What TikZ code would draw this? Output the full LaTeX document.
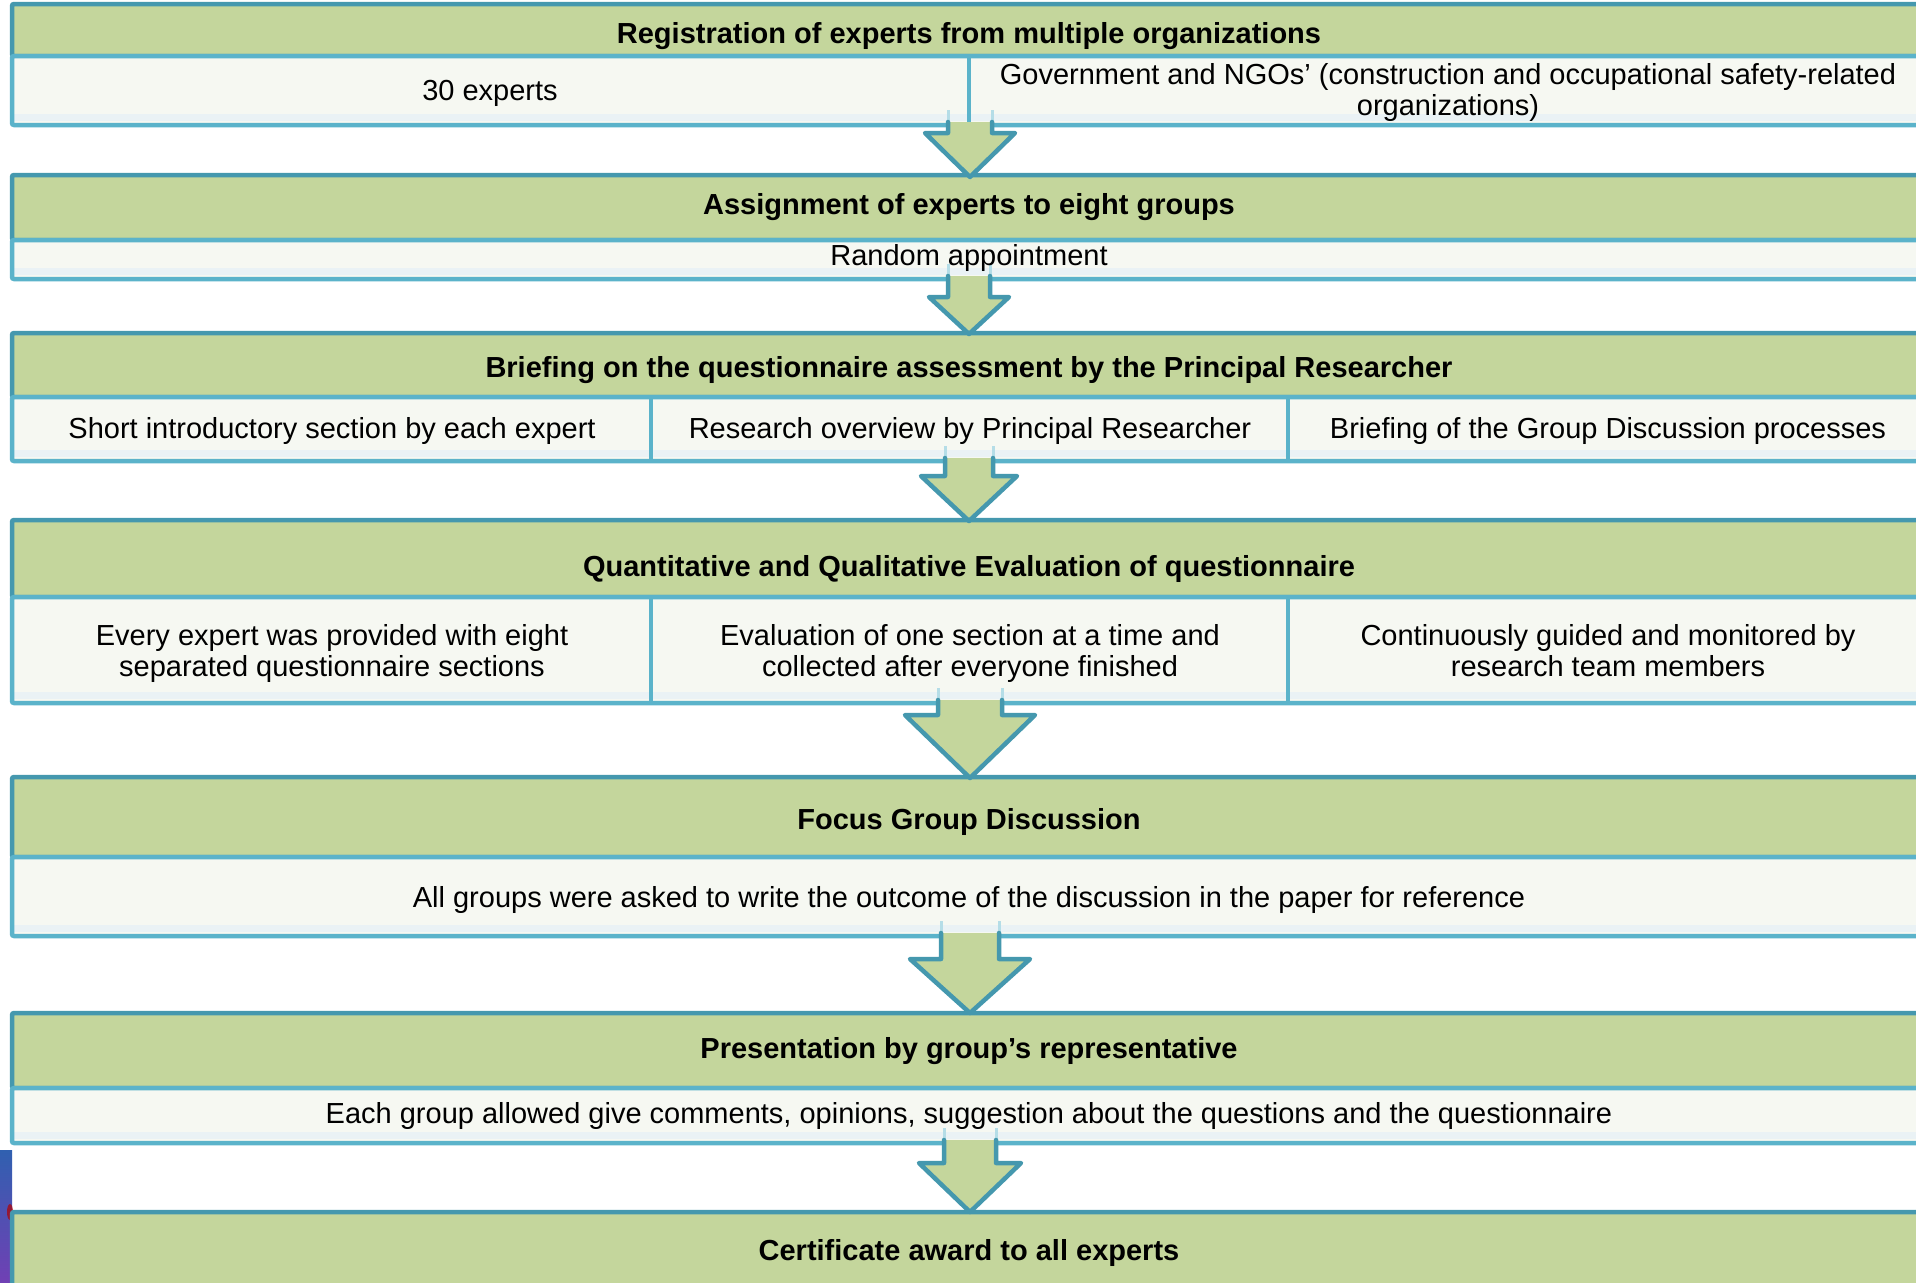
\documentclass[tikz,border=0pt]{standalone}
\usepackage{fontspec}
\setmainfont{Liberation Sans}
\definecolor{hdrfill}{HTML}{C4D69C}
\definecolor{hdrline}{HTML}{4598AE}
\definecolor{bodyfill}{HTML}{F6F8F2}
\definecolor{bodyline}{HTML}{5BB3CA}
\definecolor{bodyband}{HTML}{EAF2F5}

\tikzset{
  hdr/.style={fill=hdrfill, draw=hdrline, line width=4.5pt, rounded corners=2pt},
  bdyline/.style={draw=bodyline, line width=4.5pt, rounded corners=2pt},
  divider/.style={draw=bodyline, line width=4pt},
  htext/.style={font=\fontsize{29}{33}\selectfont\bfseries, align=center, inner sep=0pt},
  btext/.style={font=\fontsize{29}{31}\selectfont, align=center, inner sep=0pt},
  arrowline/.style={draw=hdrline, line width=4.5pt, line join=round, line cap=round},
  shaftline/.style={draw=bodyline!45, line width=3pt},
}

% a step box: green header on top of a light body
% #1 top, #2 header/body boundary, #3 bottom
\newcommand\stepbox[3]{%
  \path[hdr] (12,#1) rectangle (1928,#2);
  \fill[bodyfill] (12,#2) rectangle (1928,#3);
  \fill[bodyband] (12,#3-11) rectangle (1928,#3-4);
  \path[bdyline] (12,#2) rectangle (1928,#3);
}

% a block arrow pointing down
% #1 centre x, #2 half shaft width, #3 half head width, #4 shaft top, #5 head y, #6 tip y
\newcommand\blockarrow[6]{%
  \draw[shaftline] (#1-#2,#4-12) -- (#1-#2,#4);
  \draw[shaftline] (#1+#2,#4-12) -- (#1+#2,#4);
  \fill[hdrfill] (#1-#2,#4) -- (#1-#2,#5) -- (#1-#3,#5) -- (#1,#6) -- (#1+#3,#5) -- (#1+#2,#5) -- (#1+#2,#4) -- cycle;
  \draw[arrowline] (#1-#2,#4) -- (#1-#2,#5) -- (#1-#3,#5) -- (#1,#6) -- (#1+#3,#5) -- (#1+#2,#5) -- (#1+#2,#4);
}

\begin{document}
\begin{tikzpicture}[x=1pt,y=-1pt]
\useasboundingbox (0,0) rectangle (1916,1282);
\clip (0,0) rectangle (1916,1282);
\fill[white] (0,0) rectangle (1916,1282);

% corner of a picture peeking in at the lower left
\shade[top color={rgb,255:red,48;green,96;blue,176}, bottom color={rgb,255:red,112;green,64;blue,180}] (0,1150) rectangle (12,1282);
\fill[red!70!black, opacity=0.7] (10,1212) ellipse (3 and 8);

% boxes
\stepbox{4}{56}{125}
\draw[divider] (969,56) -- (969,125);
\stepbox{175}{240}{279}
\stepbox{333}{397}{461}
\draw[divider] (651,397) -- (651,461);
\draw[divider] (1288,397) -- (1288,461);
\stepbox{520}{597}{703}
\draw[divider] (651,597) -- (651,703);
\draw[divider] (1288,597) -- (1288,703);
\stepbox{777}{857}{936}
\stepbox{1013}{1088}{1143}
\path[hdr] (12,1212) rectangle (1928,1300);

% arrows between the steps
\blockarrow{970}{22}{45}{122}{133}{177}
\blockarrow{969}{21}{40}{276}{297}{334}
\blockarrow{969}{24}{48}{458}{476}{521}
\blockarrow{970}{32}{65}{700}{715}{778}
\blockarrow{970}{29}{60}{933}{959}{1013}
\blockarrow{970}{26}{51}{1140}{1163}{1212}

% texts
\node[htext] (h1) at (969,36) {Registration of experts from multiple organizations};
\node[btext] (b1a) at (490,93) {30 experts};
\node[btext] (b1b) at (1448,93) {Government and NGOs’ (construction and occupational safety-related\\organizations)};

\node[htext] (h2) at (969,207) {Assignment of experts to eight groups};
\node[btext] (b2) at (969,258) {Random appointment};

\node[htext] (h3) at (969,370) {Briefing on the questionnaire assessment by the Principal Researcher};
\node[btext] (b3a) at (332,431) {Short introductory section by each expert};
\node[btext] (b3b) at (970,431) {Research overview by Principal Researcher};
\node[btext] (b3c) at (1608,431) {Briefing of the Group Discussion processes};

\node[htext] (h4) at (969,569) {Quantitative and Qualitative Evaluation of questionnaire};
\node[btext] (b4a) at (332,653) {Every expert was provided with eight\\separated questionnaire sections};
\node[btext] (b4b) at (970,653) {Evaluation of one section at a time and\\collected after everyone finished};
\node[btext] (b4c) at (1608,653) {Continuously guided and monitored by\\research team members\vphantom{p}};

\node[htext] (h5) at (969,822) {Focus Group Discussion};
\node[btext] (b5) at (969,900) {All groups were asked to write the outcome of the discussion in the paper for reference};

\node[htext] (h6) at (969,1051) {Presentation by group’s representative};
\node[btext] (b6) at (969,1116) {Each group allowed give comments, opinions, suggestion about the questions and the questionnaire};

\node[htext] (h7) at (969,1253) {Certificate award to all experts};
\end{tikzpicture}
\end{document}
